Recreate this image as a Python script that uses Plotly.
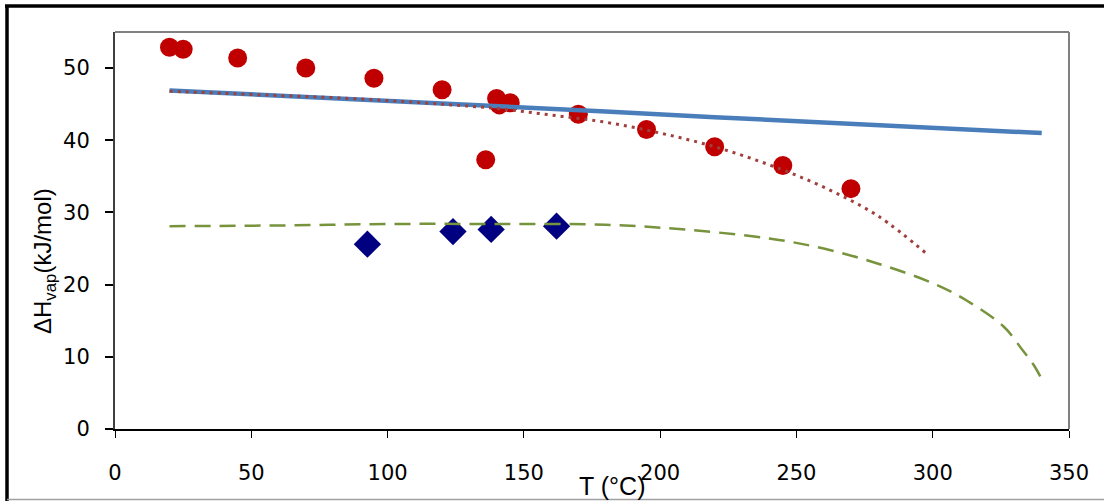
import plotly.graph_objects as go

# Experimental points (red circles)
exp_T = [20, 25, 45, 70, 95, 120, 140, 141, 145, 136, 170, 195, 220, 245, 270]
exp_H = [52.9, 52.6, 51.4, 50.0, 48.6, 47.0, 45.8, 44.9, 45.2, 37.3, 43.6, 41.5, 39.1, 36.5, 33.3]

# Blue diamonds
dia_T = [92.6, 124, 138, 162]
dia_H = [25.6, 27.35, 27.65, 28.1]

# Blue solid line
blue_T = [20, 60, 100, 140, 180, 220, 260, 300, 340]
blue_H = [46.9, 46.2, 45.4, 44.7, 44.0, 43.2, 42.5, 41.7, 41.0]

# Red dotted line
red_T = [20, 40, 60, 80, 100, 120, 140, 160, 180, 200, 220, 240, 260, 280, 298]
red_H = [46.8, 46.5, 46.2, 45.9, 45.5, 45.0, 44.4, 43.5, 42.5, 41.0, 39.1, 36.6, 33.5, 29.5, 24.2]

# Green dashed line
green_T = [20, 60, 100, 140, 180, 210, 240, 260, 280, 300, 312, 326, 333, 337, 340]
green_H = [28.1, 28.2, 28.4, 28.4, 28.3, 27.6, 26.4, 25.0, 22.9, 20.2, 17.9, 14.2, 10.9, 8.9, 6.9]

x_ticks = [0, 50, 100, 150, 200, 250, 300, 350]
y_ticks = [0, 10, 20, 30, 40, 50]

W, H = 1104, 501
L, R, T, B = 115, 1069, 32, 429

def px(x):
    return (x - L) / (R - L)

def py(y):
    return (B - y) / (B - T)

TICKFONT = "DejaVu Sans, Verdana, sans-serif"
FONT = "Liberation Sans, Arial, sans-serif"

fig = go.Figure()
fig.add_trace(go.Scatter(x=exp_T, y=exp_H, mode="markers",
                         marker=dict(symbol="circle", size=19, color="#C00000"),
                         showlegend=False))
fig.add_trace(go.Scatter(x=dia_T, y=dia_H, mode="markers",
                         marker=dict(symbol="diamond", size=21, color="#000080"),
                         showlegend=False))
fig.add_trace(go.Scatter(x=blue_T, y=blue_H, mode="lines",
                         line=dict(color="#4A7EBB", width=4.5),
                         showlegend=False))
fig.add_trace(go.Scatter(x=red_T, y=red_H, mode="lines", line_shape="spline",
                         line=dict(color="#A0403E", width=3, dash="3px,5px"),
                         showlegend=False))
fig.add_trace(go.Scatter(x=green_T, y=green_H, mode="lines", line_shape="spline",
                         line=dict(color="#77933C", width=2.5, dash="16px,9px"),
                         showlegend=False))

fig.update_xaxes(range=[0, 350], tickvals=x_ticks, ticktext=[str(v) for v in x_ticks],
                 showgrid=False, zeroline=False, showline=True, linecolor="#000000",
                 linewidth=1.5, ticks="outside", ticklen=7, tickcolor="#000000",
                 tickwidth=1, ticklabelstandoff=17, automargin=False,
                 tickfont=dict(family=TICKFONT, size=21, color="#000000"))
fig.update_yaxes(range=[0, 55], tickvals=y_ticks, ticktext=[str(v) for v in y_ticks],
                 showgrid=False, zeroline=False, showline=True, linecolor="#404040",
                 linewidth=2, ticks="outside", ticklen=8, tickcolor="#000000",
                 tickwidth=1.5, ticklabelstandoff=11, automargin=False,
                 tickfont=dict(family=TICKFONT, size=21, color="#000000"))

shapes = [
    # plot area top and right border (gray)
    dict(type="line", xref="paper", yref="paper", x0=0, x1=1, y0=1, y1=1,
         line=dict(color="#808080", width=2)),
    dict(type="line", xref="paper", yref="paper", x0=1, x1=1, y0=0, y1=1,
         line=dict(color="#808080", width=2)),
    # outer frame
    dict(type="line", xref="paper", yref="paper", x0=px(5), x1=px(1104), y0=py(6), y1=py(6),
         line=dict(color="#000000", width=3.5)),
    dict(type="line", xref="paper", yref="paper", x0=px(7), x1=px(7), y0=py(5), y1=py(501),
         line=dict(color="#000000", width=3.5)),
    dict(type="line", xref="paper", yref="paper", x0=px(7), x1=px(1104), y0=py(499.5), y1=py(499.5),
         line=dict(color="#A0A0A0", width=1.5)),
]

annotations = [
    dict(text="ΔH<sub>vap</sub>(kJ/mol)", xref="paper", yref="paper",
         x=px(44), y=py(261), xanchor="center", yanchor="middle", textangle=-90,
         showarrow=False, font=dict(family=FONT, size=24, color="#000000")),
    dict(text="T (°C)", xref="paper", yref="paper",
         x=px(612), y=py(486), xanchor="center", yanchor="middle",
         showarrow=False, font=dict(family=FONT, size=25, color="#000000")),
]

fig.update_layout(width=W, height=H, margin=dict(l=L, r=W - R, t=T, b=H - B, autoexpand=False),
                  paper_bgcolor="white", plot_bgcolor="white",
                  shapes=shapes, annotations=annotations, showlegend=False)

fig.write_html("out.html", config={"displayModeBar": False},
               post_script="document.body.style.margin='0px';")
